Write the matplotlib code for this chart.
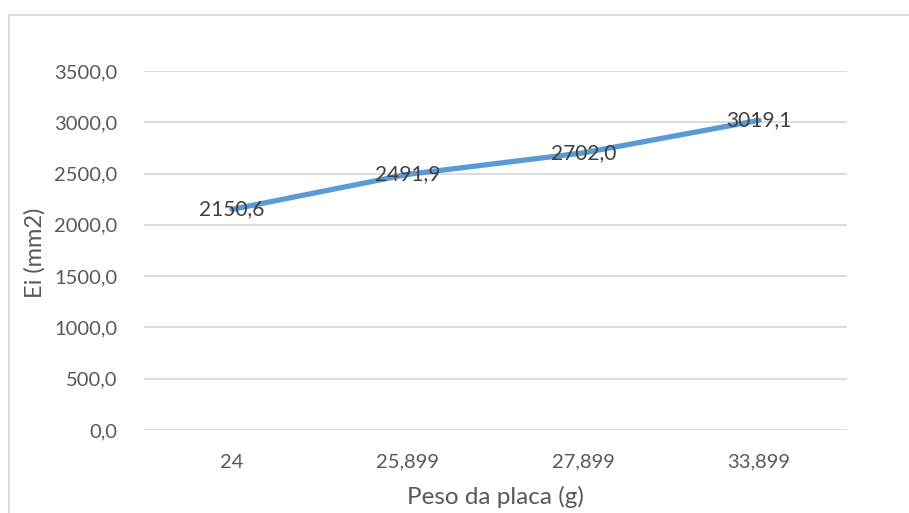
import matplotlib
matplotlib.use("Agg")
import matplotlib.pyplot as plt
from matplotlib.lines import Line2D

categories = ["24", "25,899", "27,899", "33,899"]
values = [2150.6, 2491.9, 2702.0, 3019.1]
y_ticks = [0, 500, 1000, 1500, 2000, 2500, 3000, 3500]

plt.rcParams["font.family"] = ["Lato", "DejaVu Sans"]

W, H = 909, 513
fig = plt.figure(figsize=(W / 100, H / 100), dpi=100)
fig.patch.set_facecolor("white")

# plot area in pixel coordinates
left, right, top, bottom = 144, 847, 71, 430
ax = fig.add_axes([left / W, 1 - bottom / H, (right - left) / W, (bottom - top) / H])

x = list(range(len(categories)))
ax.plot(x, values, color="#5B9BD5", lw=3.8, solid_capstyle="round", zorder=3)
for xi, v in zip(x, values):
    ax.text(xi, v, f"{v:.1f}".replace(".", ","), ha="center", va="center",
            fontsize=15, color="#404040", zorder=4)

ax.set_xlim(-0.5, len(categories) - 0.5)
ax.set_ylim(0, 3500)
ax.set_yticks(y_ticks)
ax.set_yticklabels([f"{t:.1f}".replace(".", ",") for t in y_ticks])
ax.set_xticks(x)
ax.set_xticklabels(categories)
ax.grid(axis="y", color="#D9D9D9", lw=1.3)
ax.set_axisbelow(True)
for s in ax.spines.values():
    s.set_visible(False)
ax.tick_params(length=0, labelsize=14.5, labelcolor="#595959")
ax.tick_params(axis="y", pad=19)
ax.tick_params(axis="x", pad=17)

fig.text(495 / W, 1 - 497 / H, "Peso da placa (g)", ha="center", va="center",
         fontsize=17.5, color="#595959")
fig.text(35 / W, 1 - 253 / H, "Ei (mm2)", ha="center", va="center",
         rotation=90, fontsize=17, color="#595959")

# chart frame
fig.add_artist(Line2D([9 / W, 9 / W], [0, 1 - 15 / H], transform=fig.transFigure,
                      color="#D9D9D9", lw=1.3))
fig.add_artist(Line2D([9 / W, 1], [1 - 15 / H, 1 - 15 / H], transform=fig.transFigure,
                      color="#D9D9D9", lw=1.3))

fig.savefig("out.png", dpi=100)
